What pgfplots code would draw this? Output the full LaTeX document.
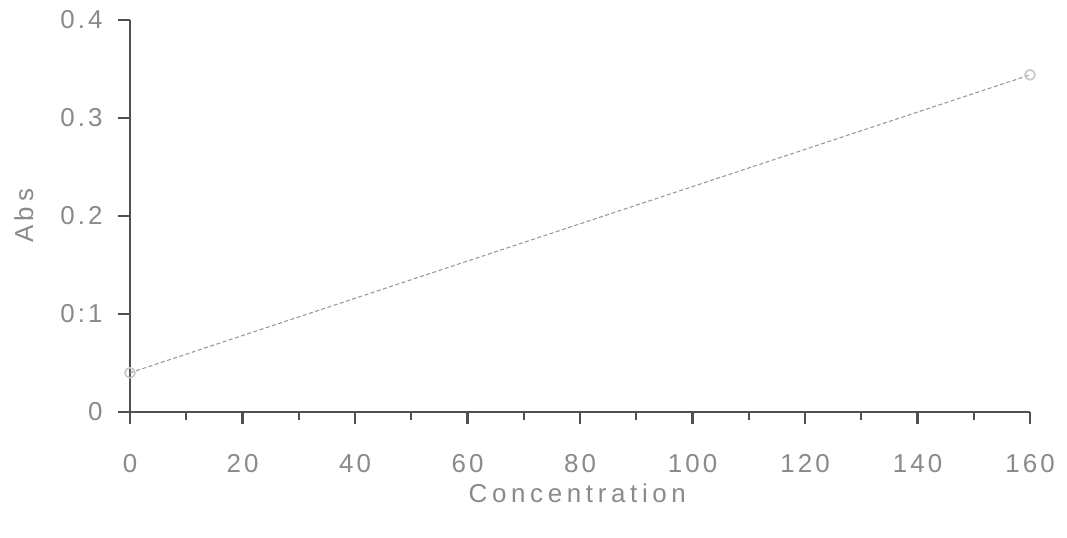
\documentclass[border=0pt]{standalone}
\usepackage{fontspec}
\setmainfont{Liberation Sans}
\newfontfamily\tickfont[LetterSpace=12]{Liberation Sans}
\newfontfamily\lblfont[LetterSpace=18]{Liberation Sans}
\usepackage{pgfplots}
\pgfplotsset{compat=1.18}
\definecolor{axisgray}{HTML}{505050}
\definecolor{textgray}{HTML}{8A8A8A}
\definecolor{linegray}{HTML}{9A9A9A}

\begin{document}
\begin{tikzpicture}[x=1bp,y=1bp]
\path[use as bounding box] (-130bp,-126bp) rectangle (937bp,412bp);
\begin{axis}[
    at={(0,0)}, anchor=south west,
    scale only axis,
    width=900bp, height=392bp,
    xmin=0, xmax=160, ymin=0, ymax=0.4,
    axis x line*=bottom, axis y line*=left,
    axis line style={draw=axisgray, line width=2.6bp},
    xtick={0,20,...,160}, minor xtick={10,30,...,150},
    ytick={0,0.1,0.2,0.3,0.4},
    % the scan shows a colon in 0.1
    yticklabels={0,0:1,0.2,0.3,0.4},
    tick align=outside,
    major tick length=12bp, minor tick length=8bp,
    tick style={draw=axisgray, line width=2.2bp},
    /pgf/number format/assume math mode=true,
    every tick label/.append style={font=\tickfont\fontsize{26}{30}\selectfont, text=textgray},
    xticklabel style={anchor=center, yshift=-40bp},
    yticklabel style={anchor=east, xshift=-12bp},
    clip=false,
    xlabel={Concentration},
    ylabel={Abs},
    every axis x label/.style={at={(axis description cs:0.497,-0.207)}, anchor=center,
        font=\lblfont\fontsize{26}{30}\selectfont, text=textgray},
    every axis y label/.style={at={(axis description cs:-0.118,0.5)}, anchor=center, rotate=90,
        font=\lblfont\fontsize{26}{30}\selectfont, text=textgray},
]
\addplot[color=linegray, line width=1.1bp, dash pattern=on 4bp off 2.5bp,
    mark=o, mark size=5bp, mark options={solid, draw=black!22, line width=1.6bp}]
    coordinates {(0,0.04) (160,0.344)};
\end{axis}
\end{tikzpicture}
\end{document}
